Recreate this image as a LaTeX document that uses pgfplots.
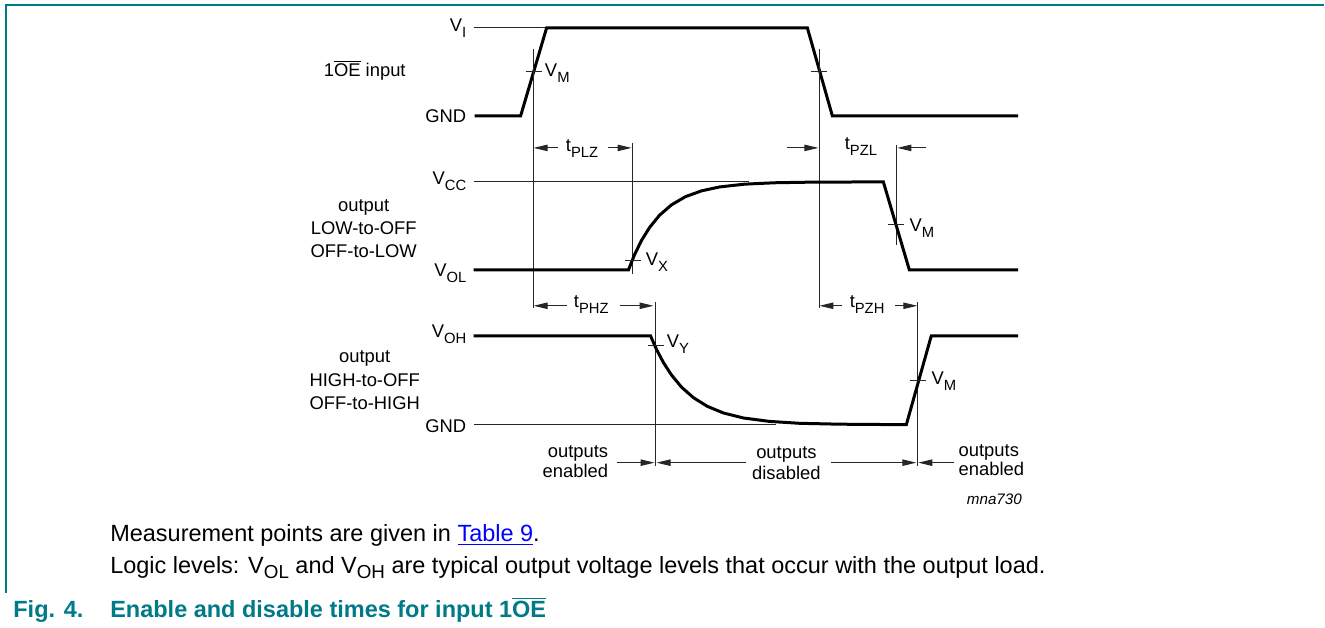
\documentclass[border=0pt]{standalone}
\usepackage{pgfplots}
\pgfplotsset{compat=1.18}
\usepackage{fontspec}
\setmainfont{Liberation Sans}
\usetikzlibrary{arrows.meta}
\definecolor{nxteal}{RGB}{0,122,135}
\newcommand\dg{\fontsize{9.2}{11}\selectfont}
\newcommand\sm{\fontsize{7.6}{9}\selectfont}
\newcommand\cp{\fontsize{11.75}{14}\selectfont}
\newcommand\sbs[1]{\raisebox{-3pt}{\fontsize{7.4}{8}\selectfont #1}}
\newcommand\sbc[1]{\raisebox{-2.6pt}{\fontsize{9.4}{10}\selectfont #1}}
\newcommand\oebar{$\overline{\mbox{OE}}$}
\tikzset{
  thinl/.style={black!85, line width=0.5pt},
  wave/.style={black, line width=1.5pt},
  arr/.style={black!85, line width=0.5pt, -{Triangle[length=7pt,width=3.2pt]}},
  lab/.style={inner sep=0pt, font=\dg},
}
\begin{document}
\begin{tikzpicture}
\begin{axis}[
  width=662.5pt, height=314pt, scale only axis,
  xmin=0, xmax=1325, ymin=0, ymax=628, y dir=reverse,
  hide axis, clip=false,
]
\path (axis cs:0,0) rectangle (axis cs:1325,628);
% frame
\addplot[nxteal, line width=1pt] coordinates {(6,4.5) (1325,4.5)};
\addplot[nxteal, line width=1pt] coordinates {(6,4) (6,593)};

% ---------- input 1OE ----------
\addplot[thinl] coordinates {(474,28) (546,28)};
\addplot[wave] coordinates {(475,116) (521,116) (547,28) (808,28) (833,116) (1019,116)};
\addplot[thinl] coordinates {(534,49) (534,308)};
\addplot[thinl] coordinates {(526,72) (542,72)};
\addplot[thinl] coordinates {(820,49) (820,308)};
\addplot[thinl] coordinates {(812,72) (828,72)};

% tPLZ / tPZL
\addplot[arr] coordinates {(558,148) (534,148)};
\addplot[arr] coordinates {(608,148) (632,148)};
\addplot[thinl] coordinates {(633,143) (633,274)};
\addplot[arr] coordinates {(788,148) (819,148)};
\addplot[arr] coordinates {(927,148) (898,148)};
\addplot[thinl] coordinates {(897,145) (897,245)};

% ---------- output LOW-to-OFF ----------
\addplot[thinl] coordinates {(474,182) (750,182)};
\addplot[wave] coordinates {(474,270) (629,270) (632,262.5) (635,254.9) (642,240.6) (650,227.7) (660,215.4) (672,205.0) (686,196.8) (702,191.0) (720,187.1) (745,184.3) (775,182.9) (810,182.3) (884,182) (910,270) (1019,270)};
\addplot[thinl] coordinates {(625,261) (641,261)};
\addplot[thinl] coordinates {(889,225) (905,225)};

% tPHZ / tPZH
\addplot[arr] coordinates {(567,306) (534,306)};
\addplot[arr] coordinates {(620,306) (654,306)};
\addplot[thinl] coordinates {(656,302) (656,466)};
\addplot[arr] coordinates {(843,306) (820,306)};
\addplot[arr] coordinates {(896,306) (918,306)};
\addplot[thinl] coordinates {(918,302) (918,466)};

% ---------- output HIGH-to-OFF ----------
\addplot[thinl] coordinates {(474,425) (777,425)};
\addplot[wave] coordinates {(474,336) (651,336) (657,349.7) (664,363.0) (672,375.3) (682,387.4) (694,398.0) (708,406.7) (724,413.3) (744,418.3) (770,421.7) (800,423.6) (840,424.5) (907,425) (932,336) (1019,336)};
\addplot[thinl] coordinates {(648,346) (664,346)};
\addplot[thinl] coordinates {(911,381) (927,381)};

% outputs enabled/disabled arrows
\addplot[arr] coordinates {(617,463) (655,463)};
\addplot[arr] coordinates {(747,463) (657,463)};
\addplot[arr] coordinates {(832,463) (917,463)};
\addplot[arr] coordinates {(955,463) (919,463)};

% ---------- labels ----------
\node[lab, anchor=base east] at (axis cs:467,32) {V\sbs{I}};
\node[lab, anchor=base east] at (axis cs:467,123) {GND};
\node[lab, anchor=base east] at (axis cs:467,185) {V\sbs{CC}};
\node[lab, anchor=base east] at (axis cs:467,277) {V\sbs{OL}};
\node[lab, anchor=base east] at (axis cs:467,338) {V\sbs{OH}};
\node[lab, anchor=base east] at (axis cs:467,433) {GND};

\node[lab, anchor=base] at (axis cs:365,77) {1\oebar{} input};
\node[lab, anchor=base] at (axis cs:364,212) {output};
\node[lab, anchor=base] at (axis cs:364,235) {LOW-to-OFF};
\node[lab, anchor=base] at (axis cs:364,258) {OFF-to-LOW};
\node[lab, anchor=base] at (axis cs:365,363) {output};
\node[lab, anchor=base] at (axis cs:365,387) {HIGH-to-OFF};
\node[lab, anchor=base] at (axis cs:365,410) {OFF-to-HIGH};

\node[lab, anchor=base west] at (axis cs:545,77) {V\sbs{M}};
\node[lab, anchor=base west] at (axis cs:646,266) {V\sbs{X}};
\node[lab, anchor=base west] at (axis cs:910,232) {V\sbs{M}};
\node[lab, anchor=base west] at (axis cs:667,348) {V\sbs{Y}};
\node[lab, anchor=base west] at (axis cs:932,385) {V\sbs{M}};

\node[lab, anchor=base west] at (axis cs:566,152) {t\sbs{PLZ}};
\node[lab, anchor=base west] at (axis cs:845,150) {t\sbs{PZL}};
\node[lab, anchor=base west] at (axis cs:574,308) {t\sbs{PHZ}};
\node[lab, anchor=base west] at (axis cs:850,308) {t\sbs{PZH}};

\node[lab, anchor=base east] at (axis cs:609,458) {outputs};
\node[lab, anchor=base east] at (axis cs:609,478) {enabled};
\node[lab, anchor=base] at (axis cs:787,459) {outputs};
\node[lab, anchor=base] at (axis cs:787,480) {disabled};
\node[lab, anchor=base west] at (axis cs:959,457) {outputs};
\node[lab, anchor=base west] at (axis cs:959,476) {enabled};
\node[inner sep=0pt, anchor=base east, font=\sm\itshape] at (axis cs:1023,505) {mna730};

% ---------- caption ----------
\node[inner sep=0pt, anchor=base west, font=\cp] at (axis cs:110,542) {Measurement points are given in {\color{blue}\underline{Table 9}}.};
\node[inner sep=0pt, anchor=base west, font=\cp] at (axis cs:110,574) {Logic levels: V\sbc{OL} and V\sbc{OH} are typical output voltage levels that occur with the output load.};
\node[inner sep=0pt, anchor=base west, font=\cp\bfseries, text=nxteal] at (axis cs:13,618) {Fig. 4.};
\node[inner sep=0pt, anchor=base west, font=\cp\bfseries, text=nxteal] at (axis cs:110,618) {Enable and disable times for input 1\oebar};
\end{axis}
\end{tikzpicture}
\end{document}
